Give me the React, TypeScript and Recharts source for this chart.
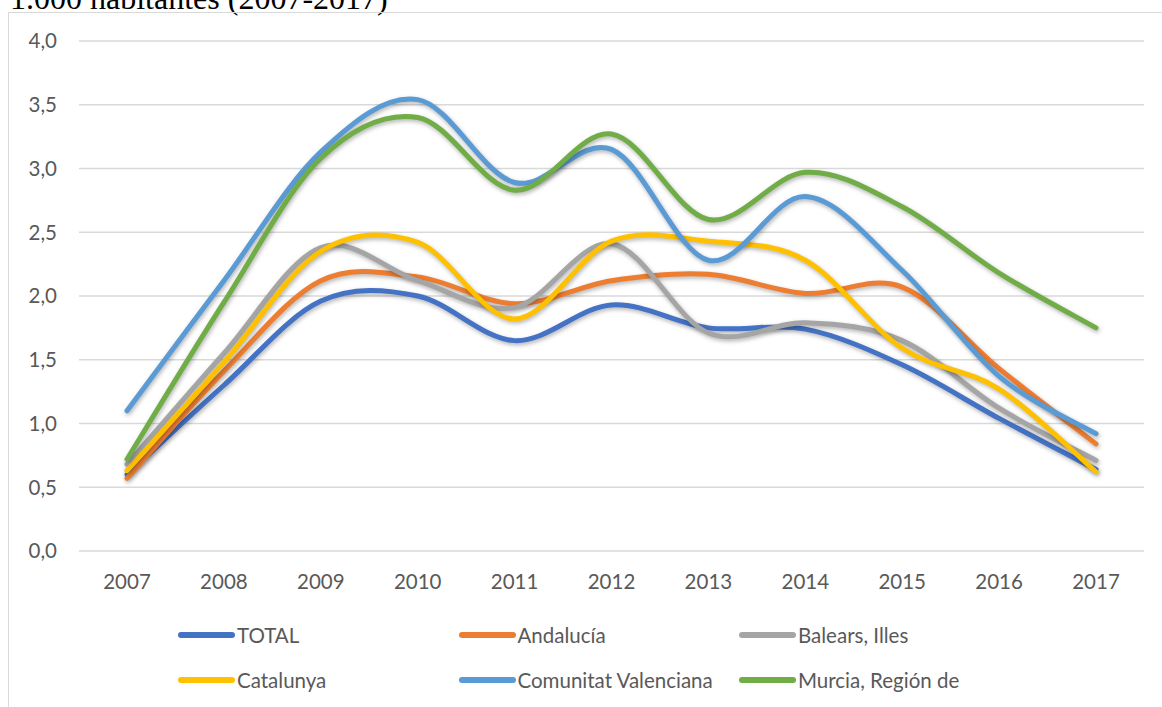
import React from 'react'
import { LineChart, Line, XAxis, YAxis, CartesianGrid, Legend } from 'recharts'

const years = ['2007', '2008', '2009', '2010', '2011', '2012', '2013', '2014', '2015', '2016', '2017']

const total = [0.6, 1.3, 1.96, 2.0, 1.65, 1.93, 1.75, 1.74, 1.46, 1.04, 0.64]
const andalucia = [0.57, 1.41, 2.12, 2.15, 1.94, 2.12, 2.17, 2.02, 2.07, 1.43, 0.84]
const baleares = [0.68, 1.55, 2.38, 2.12, 1.91, 2.41, 1.71, 1.79, 1.65, 1.12, 0.71]
const catalunya = [0.63, 1.48, 2.35, 2.42, 1.82, 2.43, 2.43, 2.28, 1.59, 1.27, 0.62]
const valenciana = [1.1, 2.12, 3.13, 3.54, 2.89, 3.15, 2.28, 2.78, 2.2, 1.37, 0.92]
const murcia = [0.72, 1.95, 3.08, 3.4, 2.83, 3.27, 2.6, 2.97, 2.7, 2.18, 1.75]

const yTicks = [0, 0.5, 1, 1.5, 2, 2.5, 3, 3.5, 4]

const series = [
  { key: 'total', name: 'TOTAL', color: '#4472C4', values: total },
  { key: 'andalucia', name: 'Andalucía', color: '#ED7D31', values: andalucia },
  { key: 'baleares', name: 'Balears, Illes', color: '#A5A5A5', values: baleares },
  { key: 'catalunya', name: 'Catalunya', color: '#FFC000', values: catalunya },
  { key: 'valenciana', name: 'Comunitat Valenciana', color: '#5B9BD5', values: valenciana },
  { key: 'murcia', name: 'Murcia, Región de', color: '#70AD47', values: murcia },
]

const data = years.map((year, i) => {
  const row: Record<string, string | number> = { year }
  series.forEach((s) => { row[s.key] = s.values[i] })
  return row
})

// Excel-style smoothed line (Catmull-Rom through the points)
const smoothCurve = (context: any) => {
  let pts: number[][] = []
  return {
    areaStart() {},
    areaEnd() {},
    lineStart() { pts = [] },
    point(x: number, y: number) { pts.push([+x, +y]) },
    lineEnd() {
      const n = pts.length
      if (!n) return
      context.moveTo(pts[0][0], pts[0][1])
      for (let i = 0; i < n - 1; i++) {
        const p0 = pts[i - 1] || pts[i]
        const p1 = pts[i]
        const p2 = pts[i + 1]
        const p3 = pts[i + 2] || p2
        context.bezierCurveTo(
          p1[0] + (p2[0] - p0[0]) / 6, p1[1] + (p2[1] - p0[1]) / 6,
          p2[0] - (p3[0] - p1[0]) / 6, p2[1] - (p3[1] - p1[1]) / 6,
          p2[0], p2[1]
        )
      }
    },
  }
}

const FONT = 'Lato, "Open Sans", sans-serif'
const TEXT = '#595959'

const LegendBox = () => (
  <div style={{ position: 'relative', width: 1162, height: 96, fontFamily: FONT, fontSize: 20.5, color: TEXT }}>
    {series.map((s, i) => (
      <div
        key={s.key}
        style={{
          position: 'absolute',
          left: 178 + (i % 3) * 280.5,
          top: 24 + Math.floor(i / 3) * 45 - 13,
          height: 26,
          display: 'flex',
          alignItems: 'center',
          whiteSpace: 'nowrap',
        }}
      >
        <span style={{ display: 'inline-block', width: 57, height: 6, borderRadius: 3, background: s.color, marginRight: 2 }} />
        <span>{s.name}</span>
      </div>
    ))}
  </div>
)

export default function App() {
  return (
    <div style={{ position: 'absolute', left: 0, top: 0, width: 1162, height: 707, overflow: 'hidden', background: '#fff' }}>
      <style>{`.recharts-line-curve { filter: drop-shadow(1px 2px 2px rgba(0,0,0,0.3)); }`}</style>
      <div
        style={{
          position: 'absolute', left: 10, top: -18, fontFamily: '"Liberation Serif", "Times New Roman", serif',
          fontSize: 32, lineHeight: '32px', color: '#000', whiteSpace: 'nowrap',
        }}
      >
        1.000 habitantes (2007-2017)
      </div>
      <div style={{ position: 'absolute', left: 8, top: 12, width: 1200, height: 800, border: '1.5px solid #d9d9d9' }} />
      <div style={{ position: 'absolute', left: 0, top: 0 }}>
        <LineChart width={1162} height={707} data={data} margin={{ top: 41, right: 18, left: 19, bottom: 0 }}>
          <CartesianGrid vertical={false} stroke="#d9d9d9" strokeWidth={1.5} />
          <XAxis
            dataKey="year"
            axisLine={false}
            tickLine={false}
            tickSize={0}
            tickMargin={23}
            height={60}
            interval={0}
            padding={{ left: 48, right: 48 }}
            tick={{ fill: TEXT, fontSize: 20.5, fontFamily: FONT }}
          />
          <YAxis
            domain={[0, 4]}
            ticks={yTicks}
            width={60}
            axisLine={false}
            tickLine={false}
            tickSize={0}
            tickMargin={22}
            tickFormatter={(v: number) => v.toFixed(1).replace('.', ',')}
            tick={{ fill: TEXT, fontSize: 20.5, fontFamily: FONT }}
          />
          <Legend verticalAlign="bottom" height={96} content={() => <LegendBox />} wrapperStyle={{ left: 0, width: 1162 }} />
          {series.map((s) => (
            <Line
              key={s.key}
              dataKey={s.key}
              name={s.name}
              type={smoothCurve as any}
              stroke={s.color}
              strokeWidth={5}
              strokeLinecap="round"
              dot={false}
              activeDot={false}
              isAnimationActive={false}
            />
          ))}
        </LineChart>
      </div>
    </div>
  )
}
